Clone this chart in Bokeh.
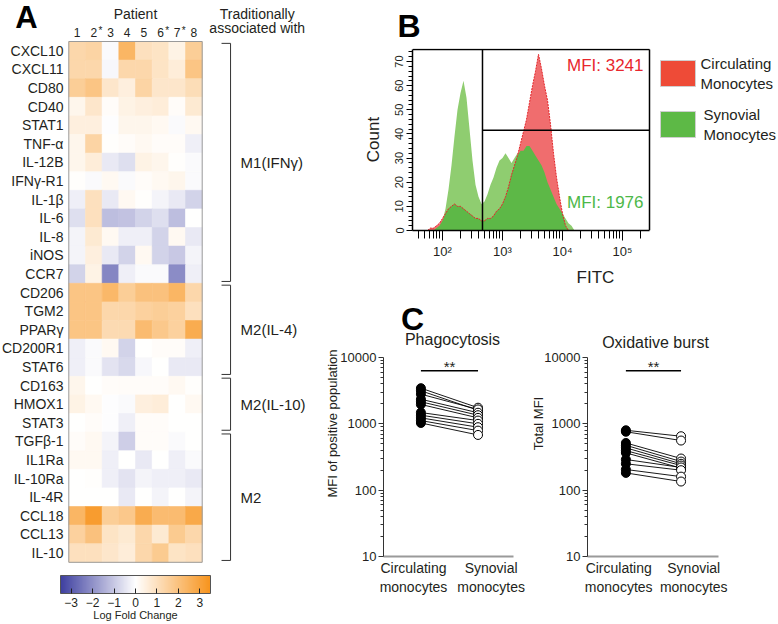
import numpy as np
from bokeh.plotting import figure
from bokeh.models import (ColumnDataSource, LinearColorMapper, ColorBar, FixedTicker,
                          Range1d, Label, BoxAnnotation)
from bokeh.layouts import row, column
from bokeh.embed import file_html
from bokeh.resources import INLINE
from bokeh.core.properties import value

FONT = "Liberation Sans"
TXT = "#231f20"

# ---------------- Panel A data ----------------
genes = ["CXCL10", "CXCL11", "CD80", "CD40", "STAT1", "TNF-α", "IL-12B", "IFNγ-R1",
         "IL-1β", "IL-6", "IL-8", "iNOS", "CCR7", "CD206", "TGM2", "PPARγ", "CD200R1",
         "STAT6", "CD163", "HMOX1", "STAT3", "TGFβ-1", "IL1Ra", "IL-10Ra", "IL-4R",
         "CCL18", "CCL13", "IL-10"]
patients = ["1", "2", "3", "4", "5", "6", "7", "8"]
starred_patients = ["2", "6", "7"]
group_names = ["M1(IFNγ)", "M2(IL-4)", "M2(IL-10)", "M2"]
group_sizes = [13, 5, 3, 7]
log_fold_change = [
    [1.3, 1.4, -0.1, 2.4, 1.0, 0.9, 0.4, 1.6],     # CXCL10
    [1.3, 1.3, -0.15, 1.3, 1.3, 0.9, 0.6, 1.9],    # CXCL11
    [1.6, 1.9, 0.8, 0.5, 1.4, 0.8, 0.8, 1.1],      # CD80
    [0.3, 0.8, 0.1, 0.4, 0.5, 0.6, 0.1, 0.7],      # CD40
    [0.5, 0.5, -0.05, 0.3, 0.3, 0.2, -0.1, 0.2],   # STAT1
    [0.3, 1.4, 0.05, 0.1, 0.2, 0.1, 0.1, -0.3],    # TNF-a
    [0.3, 0.6, -0.4, -0.6, 0.4, 0.3, 0.05, -0.1],  # IL-12B
    [0.05, -0.1, 0.2, -0.1, 0.1, 0.2, 0.3, -0.1],  # IFNg-R1
    [-0.3, 1.0, -0.4, 0.2, 0.05, -0.2, -0.4, -0.8],  # IL-1b
    [-0.6, 1.0, -1.2, -1.1, -0.8, -0.6, -1.2, 0.0],  # IL-6
    [-0.2, 0.7, 0.2, -0.3, -0.3, -0.8, 0.2, -0.4],   # IL-8
    [-0.2, 0.5, -0.4, -0.8, 0.2, -0.8, -1.0, -0.2],  # iNOS
    [-0.8, 0.4, -2.2, -0.3, -0.1, -0.1, -2.1, -0.3],  # CCR7
    [1.9, 1.9, 2.3, 1.6, 2.0, 2.0, 2.4, 1.3],      # CD206
    [1.9, 1.9, 1.3, 1.3, 1.5, 1.6, 1.5, 1.0],      # TGM2
    [1.9, 1.9, 1.2, 1.2, 2.2, 1.8, 1.5, 2.7],      # PPARg
    [-0.3, -0.1, 0.2, -0.8, 0.0, 0.1, 0.1, -0.3],  # CD200R1
    [-0.3, -0.1, -0.5, -0.7, -0.15, 0.0, -0.4, -0.4],  # STAT6
    [0.3, 0.0, 0.1, 0.1, 0.1, 0.1, 0.2, 0.05],     # CD163
    [0.4, 0.2, -0.05, -0.1, 0.5, 0.6, 0.0, 0.2],   # HMOX1
    [0.0, 0.1, -0.05, -0.3, 0.1, 0.1, 0.0, 0.0],   # STAT3
    [0.1, 0.2, -0.2, -0.9, 0.1, 0.1, -0.1, 0.0],   # TGFb-1
    [0.2, 0.2, -0.3, 0.0, -0.4, 0.0, -0.3, -0.1],  # IL1Ra
    [0.0, 0.05, -0.3, -0.5, -0.2, -0.3, -0.3, -0.4],  # IL-10Ra
    [0.0, 0.0, 0.0, -0.4, 0.0, -0.2, 0.0, -0.2],   # IL-4R
    [2.4, 3.2, 1.6, 1.8, 2.7, 2.2, 2.2, 2.8],      # CCL18
    [1.5, 2.0, 0.9, 0.7, 1.3, 0.7, 1.7, 1.3],      # CCL13
    [1.0, 1.0, 0.8, 0.6, 1.3, 1.7, 0.9, 1.0],      # IL-10
]
colorbar_ticks = [-3, -2, -1, 0, 1, 2, 3]

# ---------------- Panel B data ----------------
fitc_log10 = [1.75, 1.80, 1.85, 1.90, 1.95, 2.00, 2.05, 2.10, 2.15, 2.20, 2.25, 2.30, 2.35,
              2.40, 2.45, 2.50, 2.55, 2.60, 2.65, 2.70, 2.75, 2.80, 2.85, 2.90, 2.95, 3.00,
              3.05, 3.10, 3.15, 3.20, 3.25, 3.30, 3.35, 3.40, 3.45, 3.50, 3.55, 3.60, 3.65,
              3.70, 3.75, 3.80, 3.85, 3.90, 3.95, 4.00, 4.05, 4.10, 4.15, 4.20, 4.25]
count_synovial = [0, 0, 0, 1, 2, 4, 9, 17, 27, 39, 50, 57, 62,
                  55, 42, 29, 19, 14, 11, 12, 15, 19, 22, 26, 29, 30,
                  32, 30, 28, 30, 32, 33, 33, 35, 35, 33, 31, 29, 27,
                  24, 20, 17, 14, 11, 9, 7, 5, 3, 2, 0, 0]
count_circulating = [0, 1, 1, 2, 3, 5, 7, 9, 10, 11, 10, 10, 9,
                     8, 7, 6, 5, 5, 4, 4, 5, 5, 6, 8, 9, 11,
                     14, 18, 23, 27, 31, 36, 41, 46, 53, 60, 66, 73, 67,
                     60, 54, 44, 32, 22, 14, 7, 2, 0, 0, 0, 0]
mfi_circulating = 3241
mfi_synovial = 1976
gate_fitc = 464
gate_count = 41.5
fitc_major = [1e2, 1e3, 1e4, 1e5]
fitc_labels = ["10²", "10³", "10⁴", "10⁵"]
count_ticks = [0, 10, 20, 30, 40, 50, 60, 70]
legend_labels = [["Circulating", "Monocytes"], ["Synovial", "Monocytes"]]
legend_colors = ["#ee4b37", "#5db946"]

# ---------------- Panel C data ----------------
cond_labels = ["Circulating\nmonocytes", "Synovial\nmonocytes"]
phago_circulating = [3450, 3150, 2800, 2350, 2150, 1960, 1480, 1350, 1230, 1120, 1030]
phago_synovial = [1750, 1600, 1650, 1470, 1350, 1230, 1120, 1000, 890, 790, 680]
oxid_circulating = [800, 760, 515, 475, 435, 395, 365, 290, 250, 205, 182]
oxid_synovial = [650, 560, 300, 270, 250, 235, 215, 220, 200, 160, 135]
log_ticks = [10, 100, 1000, 10000]
log_tick_labels = ["10", "100", "1000", "10000"]
sig_label = "**"

# ======================= PANEL A =======================
lo, mid, hi = (62, 64, 160), (255, 255, 255), (247, 148, 29)
palette = []
for i in range(256):
    t = i / 255 * 2 - 1
    end = lo if t < 0 else hi
    a = abs(t)
    c = [int(round(mid[k] + (end[k] - mid[k]) * a)) for k in range(3)]
    palette.append("#%02x%02x%02x" % tuple(c))
mapper = LinearColorMapper(palette=palette, low=-3.5, high=3.5)

W_A, H_A = 322, 624
CW, RH = 16.675, 18.6
HX0, HY0 = 68.3, 41.0
ax0 = -0.5 - HX0 / CW
ay0 = -0.5 - HY0 / RH
pA = figure(width=W_A, height=H_A, x_range=Range1d(ax0, ax0 + W_A / CW),
            y_range=Range1d(ay0 + H_A / RH, ay0), x_axis_location=None,
            y_axis_location=None, min_border=0, outline_line_color=None,
            output_backend="svg", toolbar_location=None)
pA.xgrid.visible = False
pA.ygrid.visible = False

hx, hy, hv = [], [], []
for gi, vals in enumerate(log_fold_change):
    for pi, v in enumerate(vals):
        hx.append(pi); hy.append(gi); hv.append(v)
srcA = ColumnDataSource(dict(x=hx, y=hy, v=hv))
pA.rect("x", "y", width=1, height=1, source=srcA,
        fill_color={"field": "v", "transform": mapper},
        line_color={"field": "v", "transform": mapper}, line_width=0.6)
nP, nG = len(patients), len(genes)
pA.rect(x=[(nP - 1) / 2], y=[(nG - 1) / 2], width=nP, height=nG, fill_color=None,
        line_color="#9a9a9a", line_width=1)

pA.text(x=[-0.82] * nG, y=list(range(nG)), text=genes, text_align="right",
        text_baseline="middle", text_font=value(FONT), text_font_size="14px", text_color=TXT)
pA.text(x=list(range(nP)), y=[-1.0] * nP, text=patients, text_align="center",
        text_baseline="middle", text_font=value(FONT), text_font_size="12px", text_color=TXT)
star_x = [patients.index(s) + 0.28 for s in starred_patients]
pA.text(x=star_x, y=[-1.1] * len(star_x), text=["*"] * len(star_x), text_align="left",
        text_baseline="alphabetic", text_font=value(FONT), text_font_size="10px", text_color=TXT)
pA.text(x=[(nP - 1) / 2], y=[-2.0], text=["Patient"], text_align="center",
        text_baseline="middle", text_font=value(FONT), text_font_size="14px", text_color=TXT)
pA.text(x=[10.8, 10.8], y=[-2.0, -1.2], text=["Traditionally", "associated with"],
        text_align="center", text_baseline="middle", text_font=value(FONT),
        text_font_size="14px", text_color=TXT)

BX, BT, BL = 9.2, 8.66, 9.8
starts = np.cumsum([0] + group_sizes[:-1])
ends = starts + np.array(group_sizes)
tops = list(starts - 0.5 + 0.1)
bots = list(ends - 0.5 - 0.1)
pA.segment(x0=[BX] * 4, y0=tops, x1=[BX] * 4, y1=bots, line_color="#333333", line_width=1)
pA.segment(x0=[BT] * 4, y0=tops, x1=[BX] * 4, y1=tops, line_color="#333333", line_width=1)
pA.segment(x0=[BT] * 4, y0=bots, x1=[BX] * 4, y1=bots, line_color="#333333", line_width=1)
mids = list((starts + ends - 1) / 2)
pA.text(x=[BL] * 4, y=mids, text=group_names, text_align="left", text_baseline="middle",
        text_font=value(FONT), text_font_size="15px", text_color=TXT)

cb = ColorBar(color_mapper=mapper, orientation="horizontal", location=(60, 15),
              width=150, height=18, padding=0, margin=0,
              ticker=FixedTicker(ticks=colorbar_ticks),
              major_label_text_font_size="12px", major_label_text_font=FONT,
              major_label_text_color=TXT, label_standoff=4,
              major_tick_line_color="#222222", major_tick_in=5, major_tick_out=0,
              bar_line_color="#555555", background_fill_alpha=0, border_line_color=None)
pA.add_layout(cb, "center")
pA.add_layout(Label(x=135, y=10, x_units="screen", y_units="screen", text="Log Fold Change",
                    text_align="center", text_baseline="middle", text_font=FONT,
                    text_font_size="11px", text_color=TXT))
pA.add_layout(Label(x=26, y=607, x_units="screen", y_units="screen", text="A",
                    text_align="center", text_baseline="middle", text_font=FONT,
                    text_font_size="31px", text_font_style="bold", text_color="black"))

# ======================= PANEL B =======================
W_B, H_B = 456, 290
X_LO, X_HI = 10 ** 1.5, 10 ** 5.45          # extent of the histogram box
X_END = 10 ** (5.45 + 129 / 60)             # frame continues to the right edge (legend)
pB = figure(width=W_B, height=H_B, x_axis_type="log",
            x_range=Range1d(X_LO, X_END), y_range=Range1d(0, 75.4),
            min_border_left=90, min_border_right=0, min_border_top=47, min_border_bottom=60,
            outline_line_color=None, output_backend="svg", toolbar_location=None)
pB.xgrid.visible = False
pB.ygrid.visible = False
pB.title.text = "B"
pB.title.align = "left"
pB.title.offset = -15
pB.title.standoff = 10
pB.title.text_font = FONT
pB.title.text_font_size = "32px"
pB.title.text_font_style = "bold"
pB.title.text_color = "black"

fitc = [10 ** v for v in fitc_log10]
both = list(np.minimum(count_circulating, count_synovial))
srcB = ColumnDataSource(dict(x=fitc, circ=count_circulating, syn=count_synovial, both=both))
pB.varea(x="x", y1=0, y2="syn", source=srcB, fill_color="#8fcd70")
pB.varea(x="x", y1=0, y2="circ", source=srcB, fill_color="#f06d6e")
pB.varea(x="x", y1=0, y2="both", source=srcB, fill_color="#5db847")
pB.line(x="x", y="circ", source=srcB, line_color="#e3262b", line_dash="2 1", line_width=1)

# box (top and right edges; left/bottom are the axes) and gates
pB.segment(x0=[X_LO, X_HI], y0=[75, 0], x1=[X_HI, X_HI], y1=[75, 75],
           line_color="black", line_width=1.5)
pB.segment(x0=[gate_fitc, gate_fitc], y0=[0, gate_count], x1=[gate_fitc, X_HI],
           y1=[75, gate_count], line_color="black", line_width=1.5)

pB.add_layout(Label(x=10 ** 5.35, y=68.4, text="MFI: %d" % mfi_circulating, text_align="right",
                    text_baseline="middle", text_font=FONT, text_font_size="17px",
                    text_color="#e8262d"))
pB.add_layout(Label(x=10 ** 5.35, y=11.5, text="MFI: %d" % mfi_synovial, text_align="right",
                    text_baseline="middle", text_font=FONT, text_font_size="17px",
                    text_color="#4db849"))

# legend (swatch + two-line label), positioned in screen units from the frame's bottom-left
for k, (labs, col) in enumerate(zip(legend_labels, legend_colors)):
    top = 170 - 51 * k
    pB.add_layout(BoxAnnotation(left=248, right=283, top=top, bottom=top - 26,
                                left_units="screen", right_units="screen",
                                top_units="screen", bottom_units="screen",
                                fill_color=col, fill_alpha=1.0, line_color="#cfcfcf",
                                line_width=1, line_alpha=1.0))
    for j, lab in enumerate(labs):
        pB.add_layout(Label(x=288 + 3 * k, y=top - 3 - 20 * j, x_units="screen",
                            y_units="screen", text=lab, text_align="left",
                            text_baseline="middle", text_font=FONT, text_font_size="15px",
                            text_color=TXT))

minor_x = [k * 10 ** n for n in range(1, 6) for k in range(2, 10)
           if X_LO <= k * 10 ** n <= X_HI]
pB.xaxis.bounds = (X_LO, X_HI)
pB.xaxis.ticker = FixedTicker(ticks=fitc_major, minor_ticks=minor_x)
pB.xaxis.major_label_overrides = {t: l for t, l in zip(fitc_major, fitc_labels)}
pB.xaxis.major_tick_out = 10
pB.xaxis.major_tick_in = 0
pB.xaxis.minor_tick_out = 8
pB.xaxis.minor_tick_in = 0
pB.xaxis.major_label_standoff = 3
pB.xaxis.axis_label = "FITC"
pB.xaxis.axis_label_standoff = 6
pB.yaxis.bounds = (0, 75)
pB.yaxis.ticker = FixedTicker(ticks=count_ticks,
                              minor_ticks=[v for v in range(0, 76, 2) if v % 10])
pB.yaxis.major_label_orientation = "vertical"
pB.yaxis.major_tick_out = 6
pB.yaxis.major_tick_in = 0
pB.yaxis.minor_tick_out = 4
pB.yaxis.minor_tick_in = 0
pB.yaxis.major_label_standoff = 3
pB.yaxis.axis_label = "Count"
pB.yaxis.axis_label_standoff = 10
for ax in (pB.xaxis, pB.yaxis):
    ax.axis_line_color = "black"
    ax.axis_line_width = 1.5
    ax.major_tick_line_color = "black"
    ax.minor_tick_line_color = "black"
    ax.major_label_text_font = FONT
    ax.axis_label_text_font = FONT
    ax.axis_label_text_font_style = "normal"
    ax.axis_label_text_font_size = "17px"
    ax.axis_label_text_color = TXT
    ax.major_label_text_color = TXT
pB.xaxis.major_label_text_font_size = "13px"
pB.yaxis.major_label_text_font_size = "11px"


# ======================= PANEL C =======================
C_TOP = 290   # page y of the top of the C figures


def pair_plot(width, left, right, xr, title, title_xy, circ, syn, ylabel, ylab_standoff):
    # 10 at y=556 px, 10000 at y=357 px; frame extends to the top of the figure
    top_log = 4 + (357 - C_TOP) / ((556 - 357) / 3)
    p = figure(width=width, height=624 - C_TOP, y_axis_type="log", x_range=xr,
               y_range=Range1d(10, 10 ** top_log), min_border_left=left,
               min_border_right=right, min_border_top=0, min_border_bottom=68,
               outline_line_color=None, output_backend="svg", toolbar_location=None)
    p.xgrid.visible = False
    p.ygrid.visible = False
    n = len(circ)
    p.segment(x0=[0] * n, y0=circ, x1=[1] * n, y1=syn, line_color="black", line_width=0.9)
    p.scatter(x=[0] * n, y=circ, size=9, marker="circle", fill_color="black",
              line_color="black")
    p.scatter(x=[1] * n, y=syn, size=9, marker="circle", fill_color="white",
              line_color="black", line_width=1)
    p.segment(x0=[0], y0=[6300], x1=[1], y1=[6300], line_color="black", line_width=1.5)
    p.add_layout(Label(x=0.5, y=6300, text=sig_label, text_align="center",
                       text_baseline="alphabetic", y_offset=4, text_font=FONT,
                       text_font_size="15px", text_color=TXT))
    p.add_layout(Label(x=title_xy[0], y=title_xy[1], x_units="screen", y_units="screen",
                       text=title, text_align="center", text_baseline="middle",
                       text_font=FONT, text_font_size="16px", text_color=TXT))
    p.yaxis.bounds = (10, 10000)
    p.yaxis.ticker = FixedTicker(ticks=log_ticks,
                                 minor_ticks=[k * 10 ** e for e in range(1, 4) for k in range(2, 10)])
    p.yaxis.major_label_overrides = {t: l for t, l in zip(log_ticks, log_tick_labels)}
    p.yaxis.major_tick_out = 5
    p.yaxis.major_tick_in = 0
    p.yaxis.minor_tick_out = 3
    p.yaxis.minor_tick_in = 0
    p.yaxis.major_label_standoff = 2
    p.yaxis.axis_line_color = "#333333"
    p.yaxis.major_label_text_font_size = "13px"
    p.yaxis.axis_label = ylabel
    p.yaxis.axis_label_standoff = ylab_standoff
    p.yaxis.axis_label_text_font = FONT
    p.yaxis.axis_label_text_font_size = "13px"
    p.yaxis.axis_label_text_font_style = "normal"
    p.yaxis.axis_label_text_color = TXT
    p.xaxis.ticker = FixedTicker(ticks=[-0.13, 1.23])
    p.xaxis.major_label_overrides = {-0.13: cond_labels[0], 1.23: cond_labels[1]}
    p.xaxis.major_tick_out = 0
    p.xaxis.major_tick_in = 0
    p.xaxis.minor_tick_out = 0
    p.xaxis.minor_tick_in = 0
    p.xaxis.major_label_standoff = 3
    p.xaxis.axis_line_color = "#9a9a9a"
    p.xaxis.axis_line_width = 2
    p.xaxis.major_label_text_font_size = "14px"
    for ax in (p.xaxis, p.yaxis):
        ax.major_label_text_font = FONT
        ax.major_label_text_color = TXT
        ax.major_tick_line_color = "#333333"
        ax.minor_tick_line_color = "#333333"
    return p


pC1 = pair_plot(206, 59, 15, Range1d(-0.655, 1.621), "Phagocytosis", (69, 217),
                phago_circulating, phago_synovial, "MFI of positive population", -3)
pC1.add_layout(Label(x=29, y=238, x_units="screen", y_units="screen", text="C",
                     text_align="center", text_baseline="middle", text_font=FONT,
                     text_font_size="32px", text_font_style="bold", text_color="black"))
pC2 = pair_plot(250, 57, 60, Range1d(-0.696, 1.679), "Oxidative burst", (68, 214),
                oxid_circulating, oxid_synovial, "Total MFI", -5)

layout = row(pA, column(pB, row(pC1, pC2)))
open("out.html", "w").write(file_html(layout, INLINE))
